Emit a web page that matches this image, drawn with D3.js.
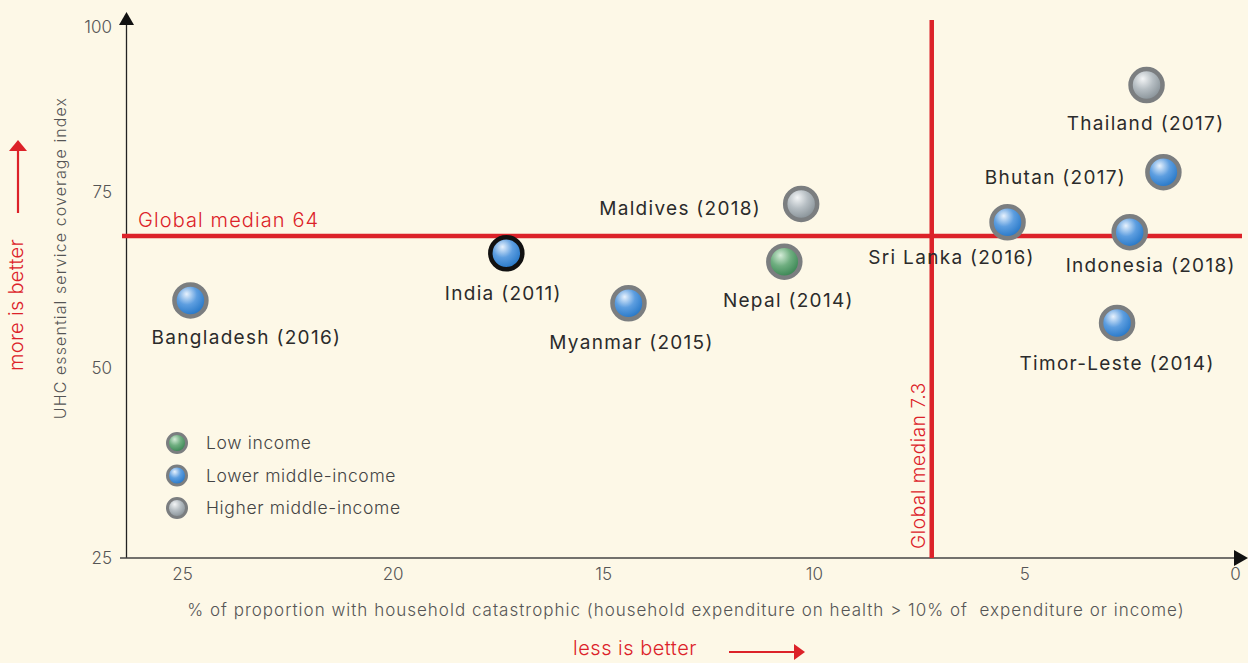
<!DOCTYPE html>
<html><head><meta charset="utf-8">
<script src="https://cdn.jsdelivr.net/npm/d3@7"></script>
<style>
html,body{margin:0;padding:0;background:#fdf8e7;}
svg{display:block;font-family:"Inter","DejaVu Sans",sans-serif;}
</style></head><body>
<svg id="chart" width="1248" height="663"></svg>
<script>
// ---- data ----
const countries = ["Bangladesh (2016)","India (2011)","Myanmar (2015)","Nepal (2014)","Maldives (2018)","Thailand (2017)","Bhutan (2017)","Sri Lanka (2016)","Indonesia (2018)","Timor-Leste (2014)"];
const catastrophic = [24.8, 17.3, 14.4, 10.7, 10.3, 2.1, 1.7, 5.4, 2.5, 2.8];
const uhcIndex = [59.6, 66.3, 59.2, 65.1, 73.3, 91.2, 78.0, 70.7, 69.3, 56.4];
const incomeGroup = ["lmi","lmi","lmi","low","hmi","hmi","lmi","lmi","lmi","lmi"];
const xTicks = [25, 20, 15, 10, 5, 0];
const yTicks = [25, 50, 75, 100];
const medianX = 7.2, medianXLabel = "Global median 7.3";
const medianY = 68.75, medianYLabel = "Global median 64";
const legendKeys = ["low","lmi","hmi"];
const legendLabels = ["Low income","Lower middle-income","Higher middle-income"];

// ---- layout (label offsets, not data) ----
const labelOffset = [[56,44],[-3,47],[3,46],[4,45],[-121,11],[-1,45],[-108,12],[-56,42],[21,40],[0,47]];

const svg = d3.select("#chart");
const red = "#dc2229";
svg.append("rect").attr("width",1248).attr("height",663).attr("fill","#fdf8e7");

const x = d3.scaleLinear().domain([25,0]).range([182,1235]);
const y = d3.scaleLinear().domain(yTicks).range([558,368,192,27]);

// gradients
const defs = svg.append("defs");
const grads = {
  low: ["#d4ecd8","#6fae80","#2f7d4a"],
  lmi: ["#e8f2fd","#5d9ee0","#1b6fc2"],
  hmi: ["#f3f5f6","#b6bec3","#7f898f"]
};
Object.entries(grads).forEach(([k,c])=>{
  const g = defs.append("radialGradient").attr("id","g-"+k)
    .attr("cx","40%").attr("cy","35%").attr("r","70%").attr("fx","38%").attr("fy","30%");
  g.append("stop").attr("offset","0%").attr("stop-color",c[0]);
  g.append("stop").attr("offset","45%").attr("stop-color",c[1]);
  g.append("stop").attr("offset","100%").attr("stop-color",c[2]);
});

// axes lines
svg.append("line").attr("x1",126.5).attr("x2",126.5).attr("y1",558).attr("y2",22).attr("stroke","#222").attr("stroke-width",1.3);
svg.append("path").attr("d","M126.5,12 L119,25 L134,25 Z").attr("fill","#111");
svg.append("line").attr("x1",120).attr("x2",1236).attr("y1",558).attr("y2",558).attr("stroke","#444").attr("stroke-width",1.3);
svg.append("path").attr("d","M1248,558 L1234,550 L1234,566 Z").attr("fill","#111");

// tick labels via axes
const gx = svg.append("g").attr("transform","translate(0,558)")
  .call(d3.axisBottom(x).tickValues(xTicks).tickSize(0).tickPadding(10).tickFormat(d3.format("d")));
gx.select(".domain").remove();
gx.selectAll("text").attr("font-size",17).attr("fill","#555").attr("font-family","Inter,DejaVu Sans,sans-serif").attr("font-weight",300);

const gy = svg.append("g").attr("transform","translate(126,0)")
  .call(d3.axisLeft(y).tickValues(yTicks).tickSize(0).tickPadding(14).tickFormat(d3.format("d")));
gy.select(".domain").remove();
gy.selectAll("text").attr("font-size",17).attr("fill","#555").attr("font-family","Inter,DejaVu Sans,sans-serif").attr("font-weight",300);

// median lines
svg.append("line").attr("x1",122).attr("x2",1242).attr("y1",y(medianY)).attr("y2",y(medianY)).attr("stroke",red).attr("stroke-width",4.5);
svg.append("line").attr("x1",x(medianX)).attr("x2",x(medianX)).attr("y1",20).attr("y2",558).attr("stroke",red).attr("stroke-width",4.5);
svg.append("text").attr("x",138).attr("y",y(medianY)-9).attr("fill",red).attr("font-size",20).attr("letter-spacing","1.1px").attr("font-weight",300).text(medianYLabel);
svg.append("text").attr("transform",`translate(${x(medianX)-7},549) rotate(-90)`).attr("fill",red).attr("font-size",19).attr("letter-spacing","0.6px").attr("font-weight",300).text(medianXLabel);

// axis titles
svg.append("text").attr("transform","translate(66,258) rotate(-90)").attr("text-anchor","middle").attr("fill","#555").attr("font-size",16).attr("letter-spacing","1.1px").attr("font-weight",300).text("UHC essential service coverage index");
svg.append("text").attr("x",686).attr("y",616).attr("text-anchor","middle").attr("fill","#555").attr("font-size",17).attr("letter-spacing","1px").attr("font-weight",300).text("% of proportion with household catastrophic (household expenditure on health > 10% of \u00a0expenditure or income)");
svg.append("text").attr("transform","translate(23,305) rotate(-90)").attr("text-anchor","middle").attr("fill",red).attr("font-size",20).attr("letter-spacing","0.3px").attr("font-weight",300).text("more is better");
svg.append("line").attr("x1",18).attr("x2",18).attr("y1",213).attr("y2",150).attr("stroke",red).attr("stroke-width",2.2);
svg.append("path").attr("d","M18,140 L9,151 L27,151 Z").attr("fill",red);
svg.append("text").attr("x",635).attr("y",655).attr("text-anchor","middle").attr("fill",red).attr("font-size",20).attr("letter-spacing","0.5px").attr("font-weight",300).text("less is better");
svg.append("line").attr("x1",729).attr("x2",795).attr("y1",652).attr("y2",652).attr("stroke",red).attr("stroke-width",2.2);
svg.append("path").attr("d","M805,652 L794,644 L794,660 Z").attr("fill",red);

// points
const pts = svg.append("g");
countries.forEach((c,i)=>{
  pts.append("circle").attr("cx",x(catastrophic[i])).attr("cy",y(uhcIndex[i])).attr("r",16)
    .attr("fill",`url(#g-${incomeGroup[i]})`)
    .attr("stroke", c.startsWith("India") ? "#111" : "#7b7e80").attr("stroke-width",4.5);
  pts.append("text").attr("x",x(catastrophic[i])+labelOffset[i][0]).attr("y",y(uhcIndex[i])+labelOffset[i][1])
    .attr("text-anchor","middle").attr("fill","#2b2b2b").attr("font-size",19).attr("letter-spacing","1.3px").text(c);
});

// legend
const lg = svg.append("g");
legendKeys.forEach((k,i)=>{
  const cy = 443 + i*32.5;
  lg.append("circle").attr("cx",177).attr("cy",cy).attr("r",9.5).attr("fill",`url(#g-${k})`).attr("stroke","#7b7e80").attr("stroke-width",3);
  lg.append("text").attr("x",206).attr("y",cy+6).attr("fill","#444").attr("font-size",17.5).attr("letter-spacing","0.65px").attr("font-weight",300).text(legendLabels[i]);
});
</script>
</body></html>
